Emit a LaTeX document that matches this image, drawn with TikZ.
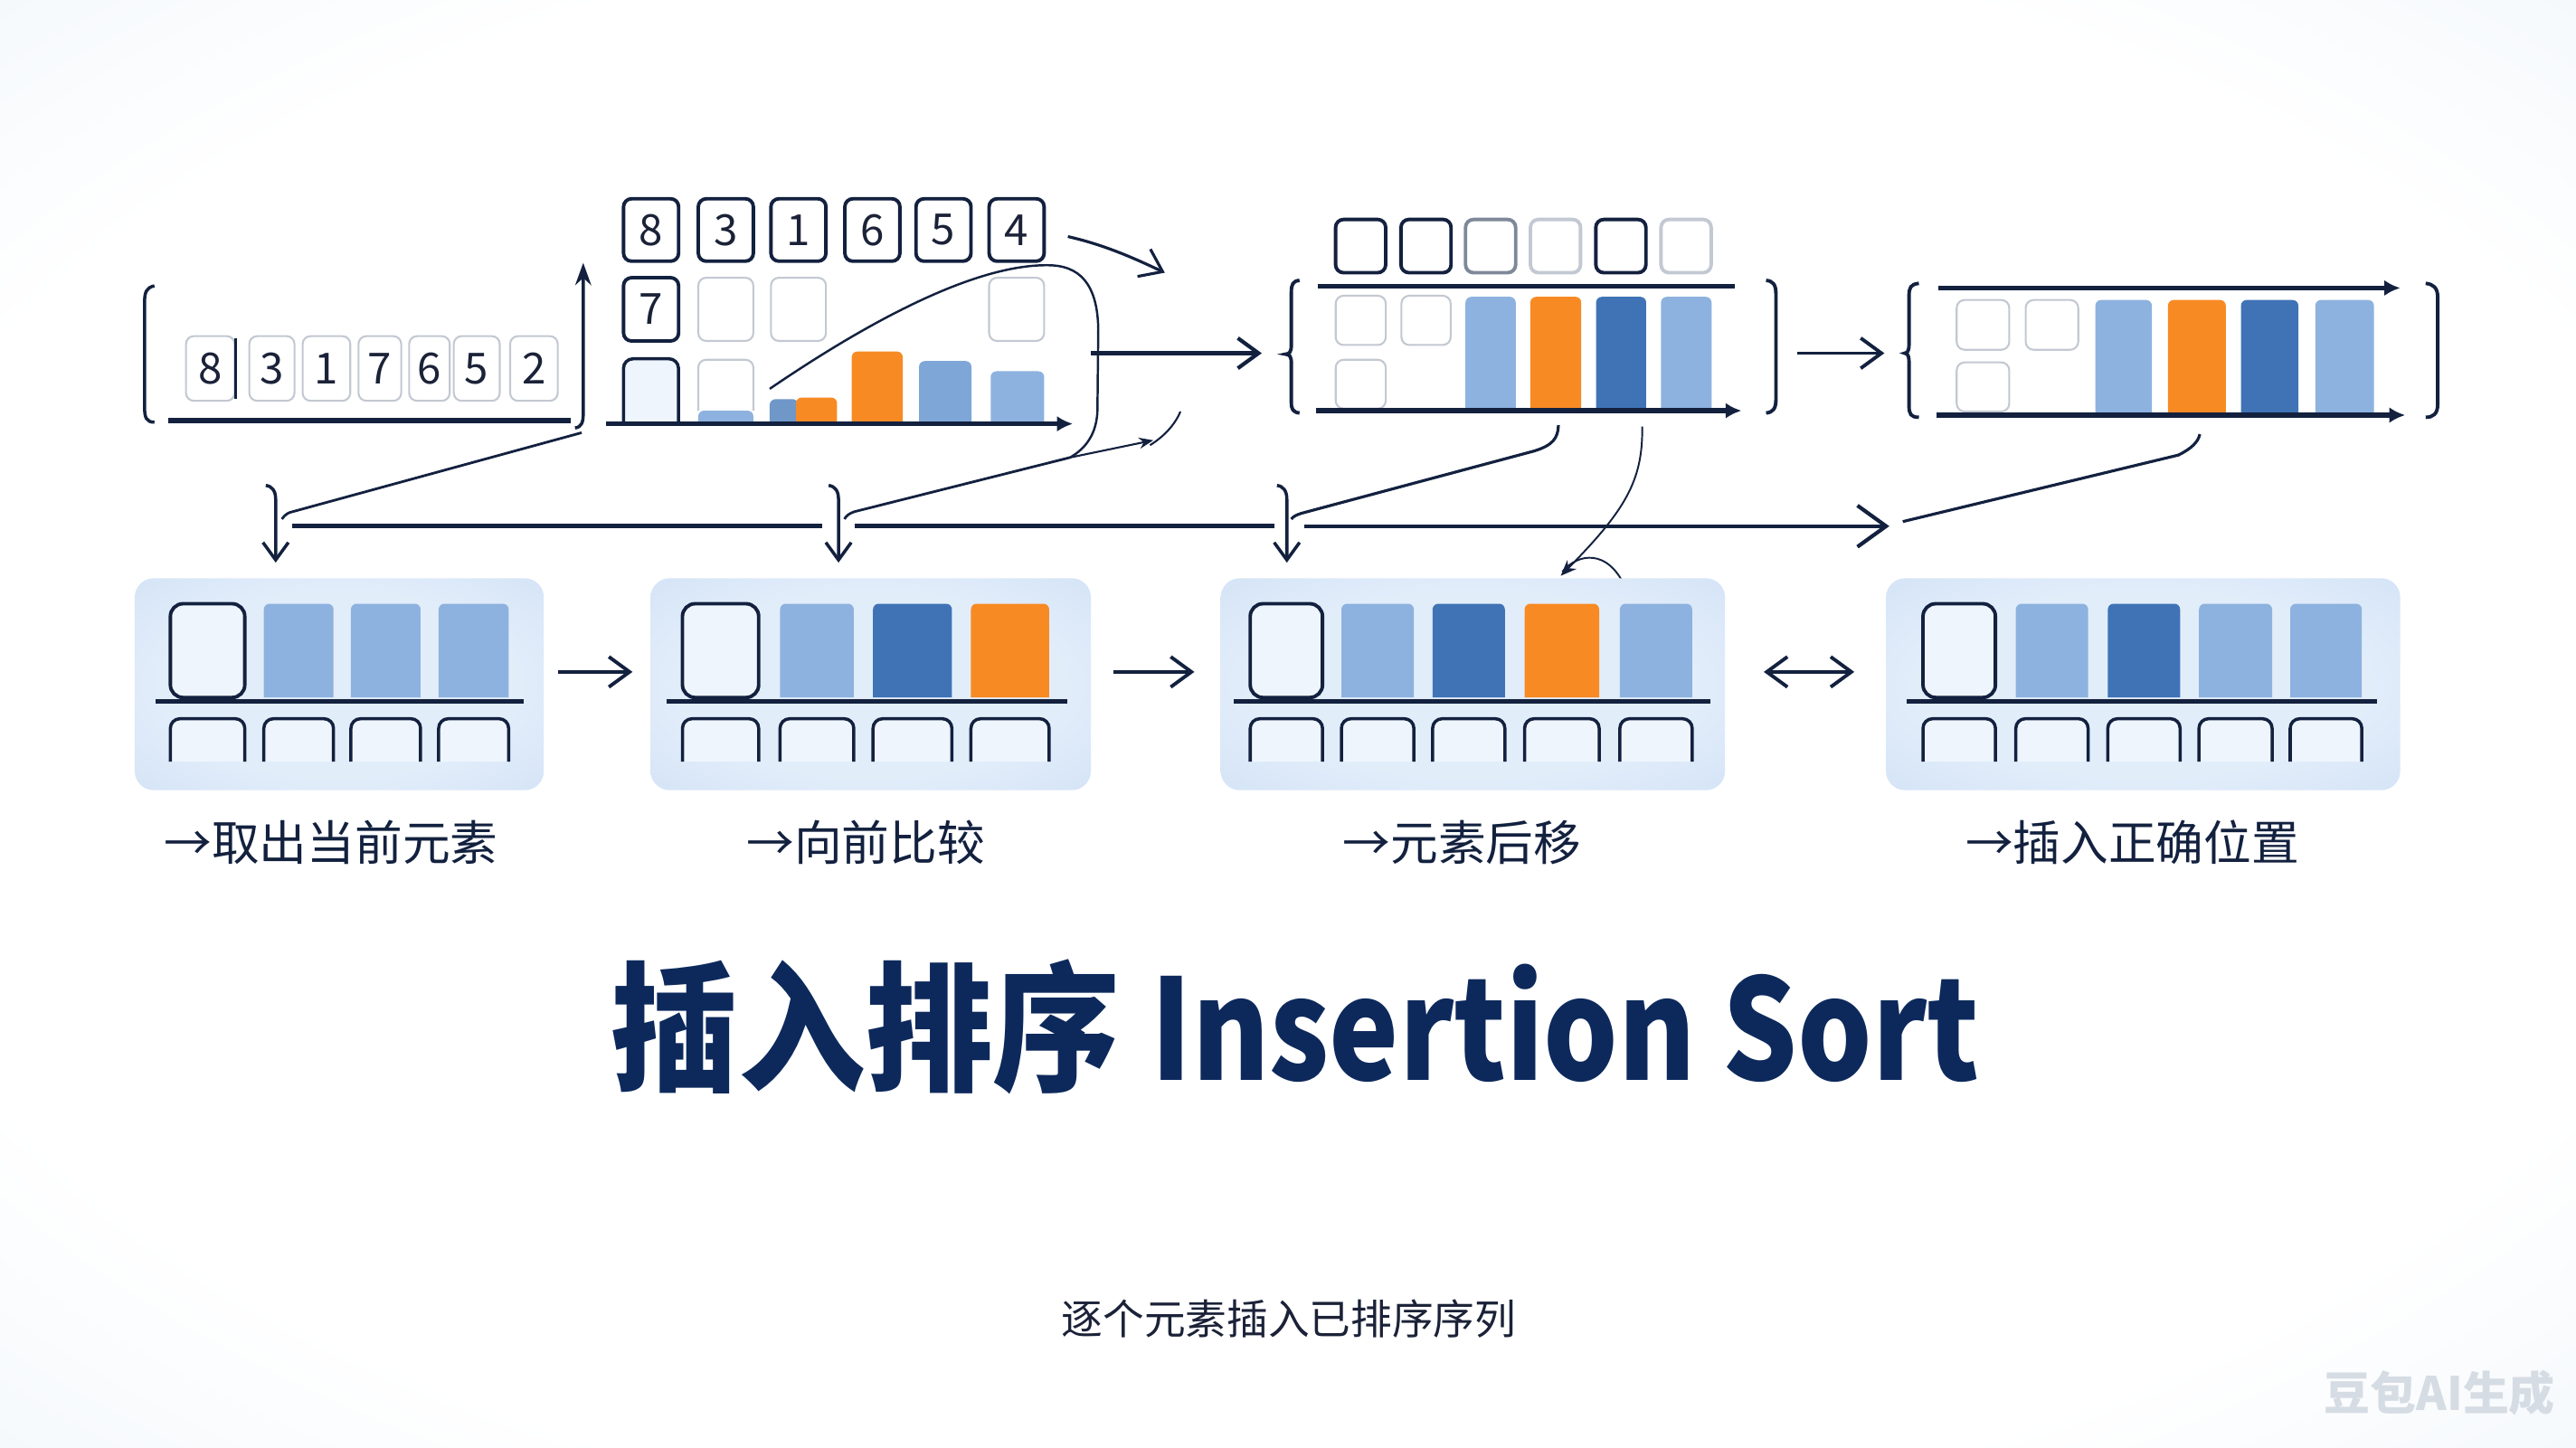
\documentclass[tikz,border=0pt]{standalone}
\usepackage{fontspec}
\newfontfamily\cjk{Noto Sans CJK SC}
\newfontfamily\titlecjk[FakeStretch=0.91]{Noto Sans CJK SC}
\newfontfamily\titlelat[FakeStretch=0.84]{Noto Sans CJK SC}
\usetikzlibrary{arrows.meta,calc}
\definecolor{navy}{HTML}{13213F}
\definecolor{ink}{HTML}{1B2238}
\definecolor{titleblue}{HTML}{0D295C}
\definecolor{lightbar}{HTML}{8DB2DF}
\definecolor{midbar}{HTML}{7EA6D7}
\definecolor{steelbar}{HTML}{6F98C9}
\definecolor{darkbar}{HTML}{3F73B5}
\definecolor{orangebar}{HTML}{F88A24}
\definecolor{faint}{HTML}{C3C9D2}
\definecolor{medgray}{HTML}{7F8898}
\definecolor{panelA}{HTML}{C6DAF2}
\definecolor{panelB}{HTML}{E2EDFA}
\definecolor{bgedge}{HTML}{E2EDF7}
\definecolor{slotfill}{HTML}{EEF5FD}
\definecolor{wmgray}{HTML}{D6DCE3}
\pgfdeclareradialshading{bgshade}{\pgfpoint{0bp}{0bp}}{color(0bp)=(white); color(28bp)=(white); color(50bp)=(bgedge); color(72bp)=(bgedge)}
\pgfdeclareradialshading{panelshade}{\pgfpoint{0bp}{0bp}}{color(0bp)=(panelB); color(22bp)=(panelB); color(50bp)=(panelA); color(72bp)=(panelA)}
\def\myu{0.5168pt}
% bar with rounded top: fill, x1, x2, ytop, ybot
\newcommand\colbar[5]{\fill[#1] (#2,#5) [rounded corners=1.8pt] -- (#2,#4) -- (#3,#4) [sharp corners] -- (#3,#5) -- cycle;}
% open-bottom slot
\newcommand\openslot[4]{\draw[fill=slotfill, draw=navy, line width=1pt] (#1,#4) [rounded corners=3pt] -- (#1,#3) -- (#2,#3) [sharp corners] -- (#2,#4);}
\begin{document}
\begin{tikzpicture}[x=0.5168pt, y=-0.5168pt,
  numbox/.style={draw=navy, line width=1.1pt, rounded corners=2.5pt, fill=white, minimum width=33.5*\myu, minimum height=38*\myu, inner sep=0pt, font=\cjk\fontsize{13.5}{14}\selectfont, text=ink},
  softbox/.style={draw=faint, line width=0.6pt, rounded corners=2.5pt, fill=white, inner sep=0pt, font=\cjk\fontsize{13.5}{14}\selectfont, text=ink},
  slotbox/.style={draw=navy, line width=1.1pt, rounded corners=4pt, fill=slotfill},
  panel/.style={shading=panelshade, rounded corners=6pt, minimum height=129*\myu, inner sep=0pt},
  thickline/.style={draw=navy, line width=1.3pt},
  thinline/.style={draw=navy, line width=0.6pt},
  barb/.style={-{Straight Barb[length=6.5pt, width=9.5pt]}},
  bigbarb/.style={-{Straight Barb[length=9pt, width=13pt]}},
  downbarb/.style={-{Straight Barb[length=5.5pt, width=8pt]}},
  axistip/.style={-{Latex[length=5pt, width=5pt]}},
  steplabel/.style={font=\cjk\fontsize{15}{17}\selectfont, text=navy}
]
\path[use as bounding box, shading=bgshade] (0,0) rectangle (1568,881);

% ---------- top-left panel ----------
\draw[navy, line width=1pt] (94,174) .. controls (89,175) and (88,178) .. (88,184) -- (88,248) .. controls (88,254) and (89,257) .. (94,257);
\foreach \nm/\cx/\w/\d in {n1/128/29.6/8, n2/165.5/27.5/3, n3/198.7/29/1, n4/231.2/26/7, n5/261.4/24.7/6, n6/290.2/28/5, n7/325/29/2}
  \node[softbox, minimum width=\w*\myu, minimum height=39.4*\myu] (\nm) at (\cx,224.3) {\d};
\draw[navy, line width=1pt] ([yshift=-1pt]n1.north east) -- ([yshift=1pt]n1.south east);
\draw[thickline, line width=1.6pt] (102.6,256) -- (347.4,256);
\coordinate (tlb) at (350,260.5);
\coordinate (tlt) at (355,160);
\draw[navy, line width=1pt, -{Stealth[length=7pt,width=5pt]}] (tlb) .. controls (354,260) and (355,257) .. (355,252) -- (tlt);

% ---------- top-middle panel ----------
\foreach \nm/\cx/\d in {m1/396.3/8, m2/441.8/3, m3/486/1, m4/531/6, m5/574.3/5, m6/618.8/4}
  \node[numbox] (\nm) at (\cx,140) {\d};
\node[numbox, minimum height=38.5*\myu] (m7) at (396.3,188.3) {7};
\foreach \nm/\cx in {f1/441.8, f2/486, f3/618.8}
  \node[softbox, minimum width=33.5*\myu, minimum height=38.5*\myu] (\nm) at (\cx,188.3) {};
\openslot{379.5}{413}{218.4}{257}
\draw[faint, line width=0.6pt, fill=white, rounded corners=2.5pt] (425,250) -- (425,219) -- (458.6,219) -- (458.6,250);
\colbar{lightbar}{425}{458.6}{250}{257}
\colbar{steelbar}{468.5}{486}{243}{257}
\colbar{orangebar}{484.5}{509.5}{242}{257}
\colbar{orangebar}{518.4}{549.5}{214}{257}
\colbar{midbar}{559.4}{591.3}{219.8}{257}
\colbar{lightbar}{603}{635.6}{226}{257}
\coordinate (ax1s) at (369,258);
\coordinate (ax1e) at (653,258);
\draw[thickline, line width=1.6pt, axistip] (ax1s) -- (ax1e);
% loop curve
\coordinate (lp0) at (468.5,236.7);
\coordinate (lp1) at (651.3,278.5);
\draw[thinline, line width=0.7pt] (lp0) .. controls (540,188) and (600,160) .. (640,161.5) .. controls (661,162.5) and (668,178) .. (668.5,200) -- (668,250) .. controls (667.5,264) and (661,273) .. (lp1);
% arrow out of loop
\coordinate (h1s) at (664,215);
\coordinate (h1e) at (768,215);
\draw[thickline, line width=1.2pt, barb] (h1s) -- (h1e);
% arrow from box 4
\coordinate (c4s) at (650,144);
\coordinate (c4e) at (709,166);
\draw[navy, line width=0.9pt, barb] (c4s) .. controls (672,149) and (690,157) .. (c4e);

% ---------- top-right middle panel ----------
\foreach \nm/\cx/\col in {t1/828.2/navy, t2/868/navy, t3/907.3/medgray, t4/946.8/faint, t5/986.6/navy, t6/1026.3/faint}
  \node[draw=\col, line width=1.1pt, rounded corners=2.5pt, fill=white, minimum width=30.5*\myu, minimum height=32.4*\myu, inner sep=0pt] (\nm) at (\cx,149.8) {};
\draw[thickline, line width=1.5pt] (802,174.3) -- (1056,174.3);
\draw[navy, line width=1.1pt] (791,170.7) .. controls (787,171) and (786,173) .. (786,178) -- (786,210) .. controls (786,214) and (785,215.5) .. (782.5,215.6) .. controls (785,215.7) and (786,217) .. (786,221) -- (786,245) .. controls (786,249) and (787,251) .. (791,251.4);
\draw[navy, line width=1.1pt] (1075,170.7) .. controls (1079,171) and (1081,173) .. (1081,179) -- (1081,243) .. controls (1081,249) and (1079,251) .. (1075,251.4);
\foreach \xa/\xb/\ya/\yb in {813/843.5/180/210, 853/883/180/210, 813/843.5/219/248.7}
  \draw[faint, line width=0.6pt, fill=white, rounded corners=2.5pt] (\xa,\ya) rectangle (\xb,\yb);
\colbar{lightbar}{892}{922.6}{180.7}{249}
\colbar{orangebar}{931.5}{962.5}{180.7}{249}
\colbar{darkbar}{971.5}{1002}{180.7}{249}
\colbar{lightbar}{1011}{1041.8}{180.7}{249}
\coordinate (ax2s) at (801,250);
\coordinate (ax2e) at (1060,250);
\draw[thickline, line width=1.6pt, axistip] (ax2s) -- (ax2e);
\coordinate (h2s) at (1094,215);
\coordinate (h2e) at (1147,215);
\draw[thickline, line width=1.1pt, barb] (h2s) -- (h2e);

% ---------- top-right panel ----------
\draw[navy, line width=1.1pt] (1168,172.5) .. controls (1163,173) and (1162,175) .. (1162,180) -- (1162,210) .. controls (1162,213.5) and (1161,214.8) .. (1159.4,215) .. controls (1161,215.2) and (1162,216.5) .. (1162,220) -- (1162,247) .. controls (1162,252) and (1163,254) .. (1168,254);
\draw[navy, line width=1.1pt] (1476.5,172.5) .. controls (1481,173) and (1483.8,175) .. (1483.8,181) -- (1483.8,246) .. controls (1483.8,252) and (1481,254) .. (1476.5,254);
\coordinate (ax3s) at (1180,175.3);
\coordinate (ax3e) at (1461,175.3);
\draw[thickline, line width=1.5pt, axistip] (ax3s) -- (ax3e);
\foreach \xa/\xb/\ya/\yb in {1191/1223/182.6/212.9, 1233/1265/182.6/212.9, 1191/1223/220.6/250.5}
  \draw[faint, line width=0.6pt, fill=white, rounded corners=2.5pt] (\xa,\ya) rectangle (\xb,\yb);
\colbar{lightbar}{1275.4}{1309.8}{182.6}{251.5}
\colbar{orangebar}{1319.6}{1354.8}{182.6}{251.5}
\colbar{darkbar}{1364}{1399}{182.6}{251.5}
\colbar{lightbar}{1409.3}{1445}{182.6}{251.5}
\coordinate (ax4s) at (1179,252.7);
\coordinate (ax4e) at (1464,252.7);
\draw[thickline, line width=1.6pt, axistip] (ax4s) -- (ax4e);

% ---------- middle connector row ----------
\coordinate (r1s) at (178,320.3);
\coordinate (r1e) at (500.6,320.3);
\coordinate (r2s) at (520,320.3);
\coordinate (r2e) at (775.6,320.3);
\coordinate (r3s) at (793.7,320.3);
\coordinate (r3e) at (1150,320.3);
\draw[thickline] (r1s) -- (r1e);
\draw[thickline] (r2s) -- (r2e);
\draw[thickline, line width=1.2pt, bigbarb] (r3s) -- (r3e);
% down arrows
\foreach \nm/\xx in {d1/167.8, d2/510.4, d3/783.3}{
  \coordinate (\nm t) at (\xx-6,295.5);
  \coordinate (\nm b) at (\xx,342.5);
  \draw[navy, line width=1pt, downbarb] (\nm t) .. controls (\xx-2,296) and (\xx,299) .. (\xx,304) -- (\nm b);
}
% diagonals
\coordinate (g1s) at (354,263.4);
\draw[navy, line width=0.8pt] (g1s) -- (176.2,312) .. controls (174,313) and (172.5,314.5) .. (171.6,316);
\draw[navy, line width=0.8pt] (lp1) -- (520,311.5) .. controls (517,312.5) and (515,314) .. (514,316);
\coordinate (sm1e) at (702,268);
\draw[thinline, line width=0.6pt, -{Stealth[length=4.5pt,width=3.5pt]}] (lp1) -- (sm1e);
\draw[thinline, line width=0.6pt] (700,271) .. controls (708,266) and (715,259) .. (718.5,250.5);
\coordinate (g3s) at (948.6,258.8);
\draw[navy, line width=0.9pt] (g3s) .. controls (948.3,267) and (945,271) .. (934,274.5) -- (792,312.5) .. controls (789,313.5) and (787,314.5) .. (786,316);
\coordinate (g4s) at (1158.2,317.5);
\coordinate (g4e) at (1339,264.3);
\draw[navy, line width=0.9pt] (g4s) -- (1326,277) .. controls (1334,273) and (1338,269) .. (g4e);
% thin curve into P3
\coordinate (tc1) at (999.6,259.7);
\coordinate (tc2) at (950,350.5);
\draw[thinline, line width=0.55pt, -{Stealth[length=5pt,width=4pt]}] (tc1) .. controls (1000,292) and (990,310) .. (tc2);
\draw[thinline, line width=0.55pt] (951,348) .. controls (960,337) and (979,333) .. (990,359);

% ---------- bottom panels ----------
\node[panel, minimum width=249*\myu] (p1) at (206.5,416.5) {};
\node[panel, minimum width=268*\myu] (p2) at (530,416.5) {};
\node[panel, minimum width=307*\myu] (p3) at (896.5,416.5) {};
\node[panel, minimum width=313*\myu] (p4) at (1304.5,416.5) {};

% P1
\draw[slotbox] (103.7,367.5) rectangle (149,424.6);
\colbar{lightbar}{160.6}{203}{367.5}{424.6}
\colbar{lightbar}{213.6}{256}{367.5}{424.6}
\colbar{lightbar}{267}{309.6}{367.5}{424.6}
\draw[thickline, line width=1.5pt] (94.8,426.8) -- (318.5,426.8);
\foreach \xa/\xb in {103.7/149, 160.6/203, 213.6/256, 267/309.6} {\openslot{\xa}{\xb}{437.5}{463.6}}
% P2
\draw[slotbox] (415.4,367.5) rectangle (461.8,424.6);
\colbar{lightbar}{474.8}{519.7}{367.5}{424.6}
\colbar{darkbar}{531.4}{579.4}{367.5}{424.6}
\colbar{orangebar}{591}{638.6}{367.5}{424.6}
\draw[thickline, line width=1.5pt] (405.5,426.8) -- (649.4,426.8);
\foreach \xa/\xb in {415.4/461.8, 474.8/519.7, 531.4/579.4, 591/638.6} {\openslot{\xa}{\xb}{437.5}{463.6}}
% P3
\draw[slotbox] (761,367.5) rectangle (805,424.6);
\colbar{lightbar}{816.5}{860.6}{367.5}{424.6}
\colbar{darkbar}{872}{916}{367.5}{424.6}
\colbar{orangebar}{928}{973.4}{367.5}{424.6}
\colbar{lightbar}{986}{1030}{367.5}{424.6}
\draw[thickline, line width=1.5pt] (751,426.8) -- (1041,426.8);
\foreach \xa/\xb in {761/805, 816.5/860.6, 872/916, 928/973.4, 986/1030} {\openslot{\xa}{\xb}{437.5}{463.6}}
% P4
\draw[slotbox] (1170.5,367.5) rectangle (1214.6,424.6);
\colbar{lightbar}{1227}{1271}{367.5}{424.6}
\colbar{darkbar}{1283}{1327}{367.5}{424.6}
\colbar{lightbar}{1338.5}{1383}{367.5}{424.6}
\colbar{lightbar}{1394}{1437.6}{367.5}{424.6}
\draw[thickline, line width=1.5pt] (1160.6,426.8) -- (1447,426.8);
\foreach \xa/\xb in {1170.5/1214.6, 1227/1271, 1283/1327, 1338.5/1383, 1394/1437.6} {\openslot{\xa}{\xb}{437.5}{463.6}}

% arrows between panels
\coordinate (a12s) at (339.7,409);
\coordinate (a12e) at (385,409);
\coordinate (a23s) at (678,409);
\coordinate (a23e) at (727,409);
\coordinate (a34s) at (1073.6,409);
\coordinate (a34e) at (1128.7,409);
\draw[thickline, line width=1.1pt, barb] (a12s) -- (a12e);
\draw[thickline, line width=1.1pt, barb] (a23s) -- (a23e);
\draw[thickline, line width=1.1pt, {Straight Barb[length=6.5pt, width=9.5pt]}-{Straight Barb[length=6.5pt, width=9.5pt]}] (a34s) -- (a34e);

% labels
\node[steplabel] (l1) at (201.5,513) {→取出当前元素};
\node[steplabel] (l2) at (527,513) {→向前比较};
\node[steplabel] (l3) at (890,513) {→元素后移};
\node[steplabel] (l4) at (1298,513) {→插入正确位置};

% title
\node[text=titleblue, inner sep=0pt] (title) at (788.5,625) {\fontsize{44}{50}\selectfont\bfseries{\titlecjk 插入排序}\hspace{0.22em}{\titlelat Insertion Sort}};
\node[font=\cjk\fontsize{13}{15}\selectfont, text=ink] (subtitle) at (784.5,803) {逐个元素插入已排序序列};
\node[font=\cjk\bfseries\fontsize{14.5}{16}\selectfont, text=wmgray] (wm) at (1485,848) {豆包AI生成};
\end{tikzpicture}
\end{document}
